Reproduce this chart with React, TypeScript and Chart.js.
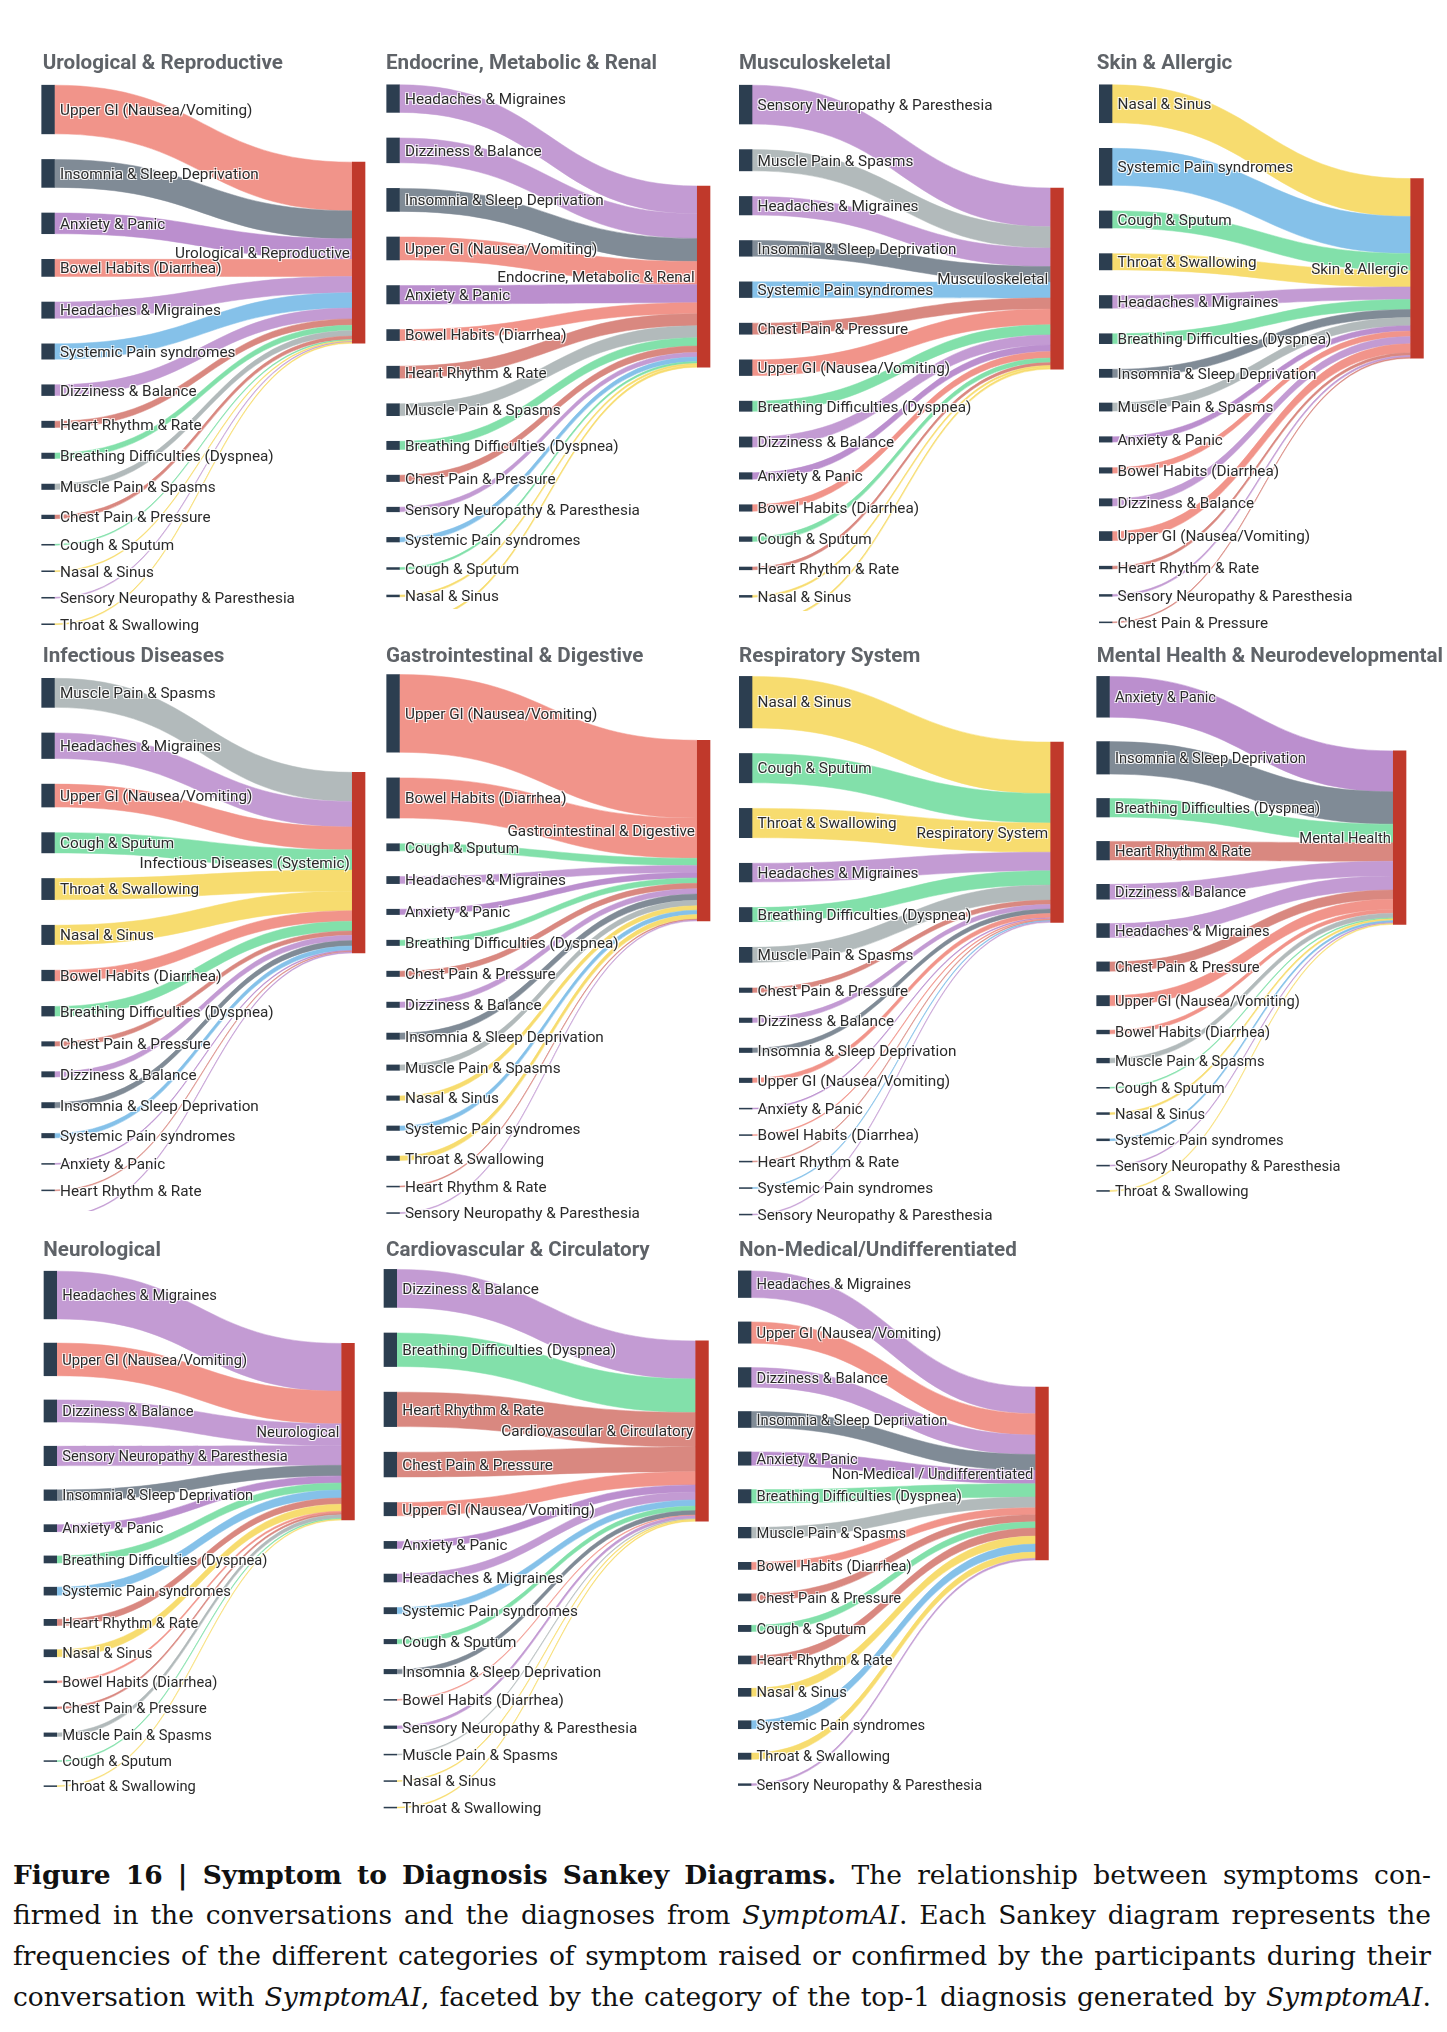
import React, { useEffect, useRef } from "react";
import { Chart, registerables } from "chart.js";

Chart.register(...registerables);

// ---------------- DATA ----------------
const uroTitle = "Urological & Reproductive";
const uroTarget = "Urological & Reproductive";
const uroSymptoms = ["Upper GI (Nausea/Vomiting)", "Insomnia & Sleep Deprivation", "Anxiety & Panic", "Bowel Habits (Diarrhea)", "Headaches & Migraines", "Systemic Pain syndromes", "Dizziness & Balance", "Heart Rhythm & Rate", "Breathing Difficulties (Dyspnea)", "Muscle Pain & Spasms", "Chest Pain & Pressure", "Cough & Sputum", "Nasal & Sinus", "Sensory Neuropathy & Paresthesia", "Throat & Swallowing"];
const uroCounts = [54, 31, 23, 19, 18, 17, 12, 7, 6, 6, 4, 1, 1, 1, 1];

const endoTitle = "Endocrine, Metabolic & Renal";
const endoTarget = "Endocrine, Metabolic & Renal";
const endoSymptoms = ["Headaches & Migraines", "Dizziness & Balance", "Insomnia & Sleep Deprivation", "Upper GI (Nausea/Vomiting)", "Anxiety & Panic", "Bowel Habits (Diarrhea)", "Heart Rhythm & Rate", "Muscle Pain & Spasms", "Breathing Difficulties (Dyspnea)", "Chest Pain & Pressure", "Sensory Neuropathy & Paresthesia", "Systemic Pain syndromes", "Cough & Sputum", "Nasal & Sinus", "Throat & Swallowing"];
const endoCounts = [30, 27, 25, 25, 20, 12, 13, 13, 9, 7, 5, 5, 2, 2, 2];

const muscTitle = "Musculoskeletal";
const muscTarget = "Musculoskeletal";
const muscSymptoms = ["Sensory Neuropathy & Paresthesia", "Muscle Pain & Spasms", "Headaches & Migraines", "Insomnia & Sleep Deprivation", "Systemic Pain syndromes", "Chest Pain & Pressure", "Upper GI (Nausea/Vomiting)", "Breathing Difficulties (Dyspnea)", "Dizziness & Balance", "Anxiety & Panic", "Bowel Habits (Diarrhea)", "Cough & Sputum", "Heart Rhythm & Rate", "Nasal & Sinus", "Throat & Swallowing"];
const muscCounts = [42, 23, 20, 17, 17, 12, 17, 11, 11, 7, 7, 5, 3, 2, 2];

const skinTitle = "Skin & Allergic";
const skinTarget = "Skin & Allergic";
const skinSymptoms = ["Nasal & Sinus", "Systemic Pain syndromes", "Cough & Sputum", "Throat & Swallowing", "Headaches & Migraines", "Breathing Difficulties (Dyspnea)", "Insomnia & Sleep Deprivation", "Muscle Pain & Spasms", "Anxiety & Panic", "Bowel Habits (Diarrhea)", "Dizziness & Balance", "Upper GI (Nausea/Vomiting)", "Heart Rhythm & Rate", "Sensory Neuropathy & Paresthesia", "Chest Pain & Pressure"];
const skinCounts = [42, 41, 19, 18, 14, 11, 9, 9, 6, 6, 8, 10, 3, 2, 1];

const infTitle = "Infectious Diseases";
const infTarget = "Infectious Diseases (Systemic)";
const infSymptoms = ["Muscle Pain & Spasms", "Headaches & Migraines", "Upper GI (Nausea/Vomiting)", "Cough & Sputum", "Throat & Swallowing", "Nasal & Sinus", "Bowel Habits (Diarrhea)", "Breathing Difficulties (Dyspnea)", "Chest Pain & Pressure", "Dizziness & Balance", "Insomnia & Sleep Deprivation", "Systemic Pain syndromes", "Anxiety & Panic", "Heart Rhythm & Rate", "Sensory Neuropathy & Paresthesia"];
const infCounts = [33, 29, 26, 23, 24, 22, 12, 11, 5, 6, 6, 5, 1, 1, 1];

const giTitle = "Gastrointestinal & Digestive";
const giTarget = "Gastrointestinal & Digestive";
const giSymptoms = ["Upper GI (Nausea/Vomiting)", "Bowel Habits (Diarrhea)", "Cough & Sputum", "Headaches & Migraines", "Anxiety & Panic", "Breathing Difficulties (Dyspnea)", "Chest Pain & Pressure", "Dizziness & Balance", "Insomnia & Sleep Deprivation", "Muscle Pain & Spasms", "Nasal & Sinus", "Systemic Pain syndromes", "Throat & Swallowing", "Heart Rhythm & Rate", "Sensory Neuropathy & Paresthesia"];
const giCounts = [87, 45, 8, 8, 6, 6, 6, 6, 7, 6, 5, 5, 5, 1, 1];

const respTitle = "Respiratory System";
const respTarget = "Respiratory System";
const respSymptoms = ["Nasal & Sinus", "Cough & Sputum", "Throat & Swallowing", "Headaches & Migraines", "Breathing Difficulties (Dyspnea)", "Muscle Pain & Spasms", "Chest Pain & Pressure", "Dizziness & Balance", "Insomnia & Sleep Deprivation", "Upper GI (Nausea/Vomiting)", "Anxiety & Panic", "Bowel Habits (Diarrhea)", "Heart Rhythm & Rate", "Systemic Pain syndromes", "Sensory Neuropathy & Paresthesia"];
const respCounts = [58, 33, 33, 21, 16, 17, 5, 5, 5, 5, 1, 1, 1, 1, 1];

const mentalTitle = "Mental Health & Neurodevelopmental";
const mentalTarget = "Mental Health";
const mentalSymptoms = ["Anxiety & Panic", "Insomnia & Sleep Deprivation", "Breathing Difficulties (Dyspnea)", "Heart Rhythm & Rate", "Dizziness & Balance", "Headaches & Migraines", "Chest Pain & Pressure", "Upper GI (Nausea/Vomiting)", "Bowel Habits (Diarrhea)", "Muscle Pain & Spasms", "Cough & Sputum", "Nasal & Sinus", "Systemic Pain syndromes", "Sensory Neuropathy & Paresthesia", "Throat & Swallowing"];
const mentalCounts = [44, 35, 20, 20, 16, 15, 10, 11, 4, 5, 1, 2, 2, 1, 1];

const neuroTitle = "Neurological";
const neuroTarget = "Neurological";
const neuroSymptoms = ["Headaches & Migraines", "Upper GI (Nausea/Vomiting)", "Dizziness & Balance", "Sensory Neuropathy & Paresthesia", "Insomnia & Sleep Deprivation", "Anxiety & Panic", "Breathing Difficulties (Dyspnea)", "Systemic Pain syndromes", "Heart Rhythm & Rate", "Nasal & Sinus", "Bowel Habits (Diarrhea)", "Chest Pain & Pressure", "Muscle Pain & Spasms", "Cough & Sputum", "Throat & Swallowing"];
const neuroCounts = [54, 37, 25, 22, 12, 8, 8, 9, 7, 8, 2, 2, 4, 1, 1];

const cardioTitle = "Cardiovascular & Circulatory";
const cardioTarget = "Cardiovascular & Circulatory";
const cardioSymptoms = ["Dizziness & Balance", "Breathing Difficulties (Dyspnea)", "Heart Rhythm & Rate", "Chest Pain & Pressure", "Upper GI (Nausea/Vomiting)", "Anxiety & Panic", "Headaches & Migraines", "Systemic Pain syndromes", "Cough & Sputum", "Insomnia & Sleep Deprivation", "Bowel Habits (Diarrhea)", "Sensory Neuropathy & Paresthesia", "Muscle Pain & Spasms", "Nasal & Sinus", "Throat & Swallowing"];
const cardioCounts = [43, 38, 39, 28, 15, 8, 9, 7, 5, 5, 1, 3, 1, 1, 1];

const nonmedTitle = "Non-Medical/Undifferentiated";
const nonmedTarget = "Non-Medical / Undifferentiated";
const nonmedSymptoms = ["Headaches & Migraines", "Upper GI (Nausea/Vomiting)", "Dizziness & Balance", "Insomnia & Sleep Deprivation", "Anxiety & Panic", "Breathing Difficulties (Dyspnea)", "Muscle Pain & Spasms", "Bowel Habits (Diarrhea)", "Chest Pain & Pressure", "Cough & Sputum", "Heart Rhythm & Rate", "Nasal & Sinus", "Systemic Pain syndromes", "Throat & Swallowing", "Sensory Neuropathy & Paresthesia"];
const nonmedCounts = [30, 24, 22, 18, 15, 15, 12, 8, 8, 7, 9, 9, 9, 7, 2];

// ---------------- STYLE ----------------
const LINK_COLORS: Record<string, string> = {
  "Upper GI (Nausea/Vomiting)": "#f1948a",
  "Bowel Habits (Diarrhea)": "#f1948a",
  "Insomnia & Sleep Deprivation": "#808b96",
  "Muscle Pain & Spasms": "#b2babb",
  "Anxiety & Panic": "#bb8fce",
  "Headaches & Migraines": "#c39bd3",
  "Dizziness & Balance": "#c39bd3",
  "Sensory Neuropathy & Paresthesia": "#c39bd3",
  "Systemic Pain syndromes": "#85c1e9",
  "Heart Rhythm & Rate": "#d98880",
  "Chest Pain & Pressure": "#d98880",
  "Breathing Difficulties (Dyspnea)": "#82e0aa",
  "Cough & Sputum": "#82e0aa",
  "Nasal & Sinus": "#f7dc6f",
  "Throat & Swallowing": "#f7dc6f",
};
const NODE_LEFT = "#2c3e50";
const NODE_RIGHT = "#c0392b";
const LABEL_COLOR = "#2a2a2a";
const TITLE_COLOR = "#5f6368";

type Layout = {
  x: number; y: number; w: number; clipH: number;
  nodeL: number; nodeR: number; colTop: number; colH: number; pad: number;
  fs: number; titleX: number; titleY: number; nodeW: number;
};

const L = (x: number, y: number, w: number, clipH: number, nodeL: number, nodeR: number, colTop: number, colH: number, pad: number, fs: number, titleX: number, titleY: number): Layout =>
  ({ x, y, w, clipH, nodeL, nodeR, colTop, colH, pad, fs, titleX, titleY, nodeW: 12.7 });

const FS_A = 15.3;
const FS_B = 14.7;

const PANELS = [
  { title: uroTitle, target: uroTarget, symptoms: uroSymptoms, counts: uroCounts, layout: L(30, 40, 342, 598, 41.7, 352.3, 85.2, 539.5, 25.6, FS_A, 42.7, 69) },
  { title: endoTitle, target: endoTarget, symptoms: endoSymptoms, counts: endoCounts, layout: L(375, 40, 347, 569, 386.7, 697.3, 84.8, 539.5, 25.6, FS_A, 386, 69) },
  { title: muscTitle, target: muscTarget, symptoms: muscSymptoms, counts: muscCounts, layout: L(725, 40, 357, 571, 739.3, 1050.7, 85.2, 539.5, 25.6, FS_A, 739, 69) },
  { title: skinTitle, target: skinTarget, symptoms: skinSymptoms, counts: skinCounts, layout: L(1085, 40, 362, 598, 1099.3, 1410.7, 84.8, 538, 25.6, FS_A, 1096.7, 69) },
  { title: infTitle, target: infTarget, symptoms: infSymptoms, counts: infCounts, layout: L(30, 635, 342, 576, 41.7, 352.3, 678.3, 539, 25.6, FS_A, 42.7, 662.4) },
  { title: giTitle, target: giTarget, symptoms: giSymptoms, counts: giCounts, layout: L(375, 635, 347, 593, 386.7, 697.3, 674.5, 539, 25.6, FS_A, 386, 662.4) },
  { title: respTitle, target: respTarget, symptoms: respSymptoms, counts: respCounts, layout: L(725, 635, 357, 593, 739.3, 1050.7, 676.4, 538.6, 25.6, FS_A, 739, 662.4) },
  { title: mentalTitle, target: mentalTarget, symptoms: mentalSymptoms, counts: mentalCounts, layout: L(1085, 635, 362, 593, 1096.7, 1393.3, 676.4, 515, 24.4, FS_B, 1096.7, 662.4) },
  { title: neuroTitle, target: neuroTarget, symptoms: neuroSymptoms, counts: neuroCounts, layout: L(30, 1225, 342, 580, 44, 341.7, 1271.2, 515.4, 24.2, FS_B, 43.3, 1255.5) },
  { title: cardioTitle, target: cardioTarget, symptoms: cardioSymptoms, counts: cardioCounts, layout: L(375, 1225, 347, 595, 384, 695.7, 1269.4, 538.6, 25.6, FS_A, 386, 1255.5) },
  { title: nonmedTitle, target: nonmedTarget, symptoms: nonmedSymptoms, counts: nonmedCounts, layout: L(725, 1225, 357, 580, 738.3, 1035.7, 1270.9, 514.6, 24.4, FS_B, 739, 1255.5) },
];

type Spec = typeof PANELS[number];

function haloText(ctx: CanvasRenderingContext2D, text: string, x: number, y: number) {
  ctx.save();
  ctx.fillStyle = "rgba(255,255,255,0.85)";
  for (const [dx, dy] of [[1, 1], [1, -1], [-1, 1], [-1, -1]]) ctx.fillText(text, x + dx, y + dy);
  ctx.restore();
  ctx.fillStyle = LABEL_COLOR;
  ctx.fillText(text, x, y);
}

function SankeyPanel({ spec }: { spec: Spec }) {
  const ref = useRef<HTMLCanvasElement>(null);
  const lay = spec.layout;
  const canvasH = Math.ceil(lay.colTop - lay.y + lay.colH + 40);

  useEffect(() => {
    const { symptoms, counts } = spec;
    const n = counts.length;
    const total = counts.reduce((a, b) => a + b, 0);
    const k = (lay.colH - (n - 1) * lay.pad) / total;
    const padU = lay.pad / k;
    const yMax = total + (n - 1) * padU;

    const left: [number, number][] = [];
    let acc = 0;
    for (let i = 0; i < n; i++) {
      left.push([acc, acc + counts[i]]);
      acc += counts[i] + padU;
    }
    let wsum = 0;
    for (let i = 0; i < n; i++) wsum += counts[i] * (left[i][0] + left[i][1]) / 2;
    const center = wsum / total;
    const r0 = Math.max(0, Math.min(yMax - total, center - total / 2));
    const right: [number, number] = [r0, r0 + total];

    const bars = [...left.map((r) => ({ x: 0, y: r })), { x: 1, y: right }];
    const nodeW = lay.nodeW;

    const padTop = lay.colTop - lay.y;
    const padBottom = canvasH - (padTop + lay.colH);
    const padLeft = lay.nodeL + nodeW / 2 - lay.x;
    const padRight = lay.x + lay.w - (lay.nodeR + nodeW / 2);

    const sankeyPlugin = {
      id: "sankeyFlows",
      beforeDatasetsDraw(chart: any) {
        const ctx: CanvasRenderingContext2D = chart.ctx;
        const xs = chart.scales.x, ys = chart.scales.y;
        const xL = xs.getPixelForValue(0) + nodeW / 2;
        const xR = xs.getPixelForValue(1) - nodeW / 2;
        const xm = (xL + xR) / 2;
        let t = right[0];
        ctx.save();
        for (let i = 0; i < n; i++) {
          const s0 = ys.getPixelForValue(left[i][0]);
          const s1 = ys.getPixelForValue(left[i][1]);
          const t0 = ys.getPixelForValue(t);
          const t1 = ys.getPixelForValue(t + counts[i]);
          t += counts[i];
          ctx.beginPath();
          ctx.moveTo(xL, s0);
          ctx.bezierCurveTo(xm, s0, xm, t0, xR, t0);
          ctx.lineTo(xR, t1);
          ctx.bezierCurveTo(xm, t1, xm, s1, xL, s1);
          ctx.closePath();
          const col = LINK_COLORS[symptoms[i]] || "#cccccc";
          ctx.fillStyle = col;
          ctx.fill();
          ctx.strokeStyle = col;
          ctx.lineWidth = 0.5;
          ctx.stroke();
        }
        ctx.restore();
      },
      afterDatasetsDraw(chart: any) {
        const ctx: CanvasRenderingContext2D = chart.ctx;
        const xs = chart.scales.x, ys = chart.scales.y;
        ctx.save();
        ctx.font = `${lay.fs}px Roboto, "Noto Sans", sans-serif`;
        ctx.textBaseline = "alphabetic";
        const dy = 0.35 * lay.fs;
        ctx.textAlign = "left";
        const lx = xs.getPixelForValue(0) + nodeW / 2 + 5.6;
        for (let i = 0; i < n; i++) {
          const cy = ys.getPixelForValue((left[i][0] + left[i][1]) / 2);
          haloText(ctx, symptoms[i], lx, cy + dy);
        }
        ctx.textAlign = "right";
        const rx = xs.getPixelForValue(1) - nodeW / 2 - 2.5;
        const rcy = ys.getPixelForValue((right[0] + right[1]) / 2);
        haloText(ctx, spec.target, rx, rcy + dy);
        ctx.restore();
      },
      afterDraw(chart: any) {
        const ctx: CanvasRenderingContext2D = chart.ctx;
        ctx.save();
        ctx.font = `bold 20.6px Roboto, "Noto Sans", sans-serif`;
        ctx.fillStyle = TITLE_COLOR;
        ctx.textAlign = "left";
        ctx.textBaseline = "alphabetic";
        ctx.fillText(spec.title, lay.titleX - lay.x, lay.titleY - lay.y);
        ctx.restore();
      },
    };

    const chart = new Chart(ref.current!, {
      type: "bar",
      data: {
        datasets: [
          {
            data: bars as any,
            backgroundColor: bars.map((_, i) => (i < n ? NODE_LEFT : NODE_RIGHT)),
            barThickness: nodeW,
            borderWidth: 0,
            clip: false as any,
          } as any,
        ],
      },
      options: {
        animation: false,
        responsive: false,
        maintainAspectRatio: false,
        events: [],
        layout: { padding: { left: padLeft, right: padRight, top: padTop, bottom: padBottom } },
        scales: {
          x: { type: "linear", min: 0, max: 1, offset: false, display: false },
          y: { type: "linear", min: 0, max: yMax, reverse: true, display: false },
        },
        plugins: { legend: { display: false }, tooltip: { enabled: false }, title: { display: false } },
      },
      plugins: [sankeyPlugin],
    } as any);
    return () => chart.destroy();
  }, []);

  return (
    <div style={{ position: "absolute", left: lay.x, top: lay.y, width: lay.w, height: lay.clipH, overflow: "hidden" }}>
      <canvas ref={ref} width={lay.w} height={canvasH} style={{ display: "block", width: lay.w, height: canvasH }} />
    </div>
  );
}

// ---------------- CAPTION ----------------
const captionStyle: React.CSSProperties = {
  position: "absolute",
  left: 13,
  top: 1854.6,
  width: 1418,
  fontFamily: '"DejaVu Serif", "Liberation Serif", serif',
  fontSize: 26.5,
  lineHeight: "40.7px",
  color: "#111",
};
const lineStyle: React.CSSProperties = { display: "flex", justifyContent: "space-between", whiteSpace: "nowrap" };

function words(text: string, kind: "" | "b" | "i" = "") {
  return text.split(" ").filter(Boolean).map((w, i) => {
    if (kind === "b") return <b key={w + i}>{w}</b>;
    if (kind === "i") return <i key={w + i}>{w}</i>;
    return <span key={w + i}>{w}</span>;
  });
}

export default function App() {
  return (
    <div style={{ position: "absolute", left: 0, top: 0, width: 1447, height: 2032, background: "#fff", overflow: "hidden" }}>
      {PANELS.map((p, i) => (
        <SankeyPanel key={i} spec={p} />
      ))}
      <div style={captionStyle}>
        <div style={lineStyle}>
          {words("Figure 16 | Symptom to Diagnosis Sankey Diagrams.", "b")}
          {words("The relationship between symptoms con-")}
        </div>
        <div style={lineStyle}>
          {words("firmed in the conversations and the diagnoses from")}
          <span><i>SymptomAI</i>.</span>
          {words("Each Sankey diagram represents the")}
        </div>
        <div style={lineStyle}>
          {words("frequencies of the different categories of symptom raised or confirmed by the participants during their")}
        </div>
        <div style={lineStyle}>
          {words("conversation with")}
          <span><i>SymptomAI</i>,</span>
          {words("faceted by the category of the top-1 diagnosis generated by")}
          <span><i>SymptomAI</i>.</span>
        </div>
      </div>
    </div>
  );
}
